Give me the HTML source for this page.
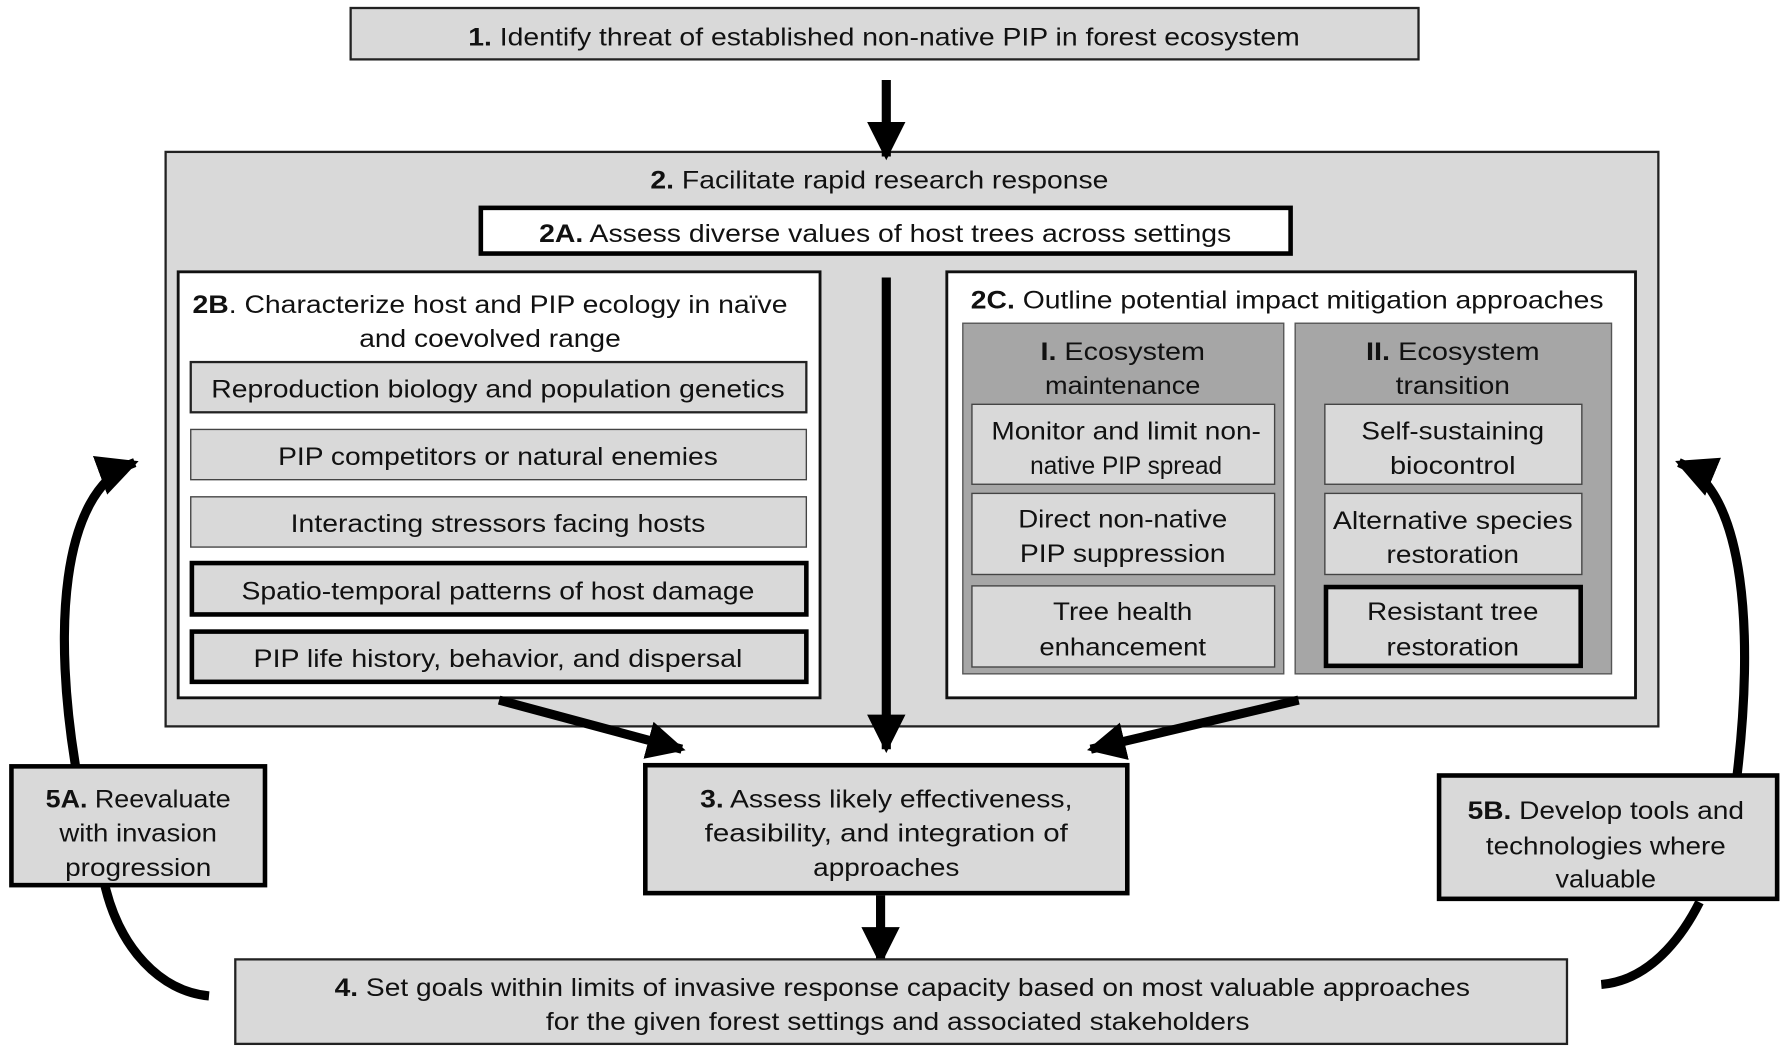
<!DOCTYPE html>
<html><head><meta charset="utf-8"><style>
html,body{margin:0;padding:0;background:#fff;}
svg{display:block;}
text{font-family:"Liberation Sans",Arial,sans-serif;font-size:22px;fill:#111;text-anchor:middle;}
.b{font-weight:bold;}
</style></head><body>
<svg width="1784" height="1048" viewBox="0 0 1562 917.6" xmlns="http://www.w3.org/2000/svg">
<defs>
<marker id="ah" viewBox="0 0 10 10" refX="9" refY="5" markerWidth="4.2" markerHeight="4.2" orient="auto" markerUnits="strokeWidth"><path d="M0,0 L10,5 L0,10 z" fill="#000"/></marker>
<marker id="ah2" viewBox="0 0 10 10" refX="9" refY="5" markerWidth="4.5" markerHeight="4.5" orient="auto" markerUnits="strokeWidth"><path d="M0,0 L10,5 L0,10 z" fill="#000"/></marker>
</defs>

<!-- Box 1 -->
<rect x="307" y="7" width="935" height="45" fill="#d9d9d9" stroke="#222" stroke-width="2"/>
<text x="774" y="40" textLength="728" lengthAdjust="spacingAndGlyphs"><tspan class="b">1.</tspan> Identify threat of established non-native PIP in forest ecosystem</text>

<!-- Box 2 -->
<rect x="145" y="133" width="1307" height="503" fill="#d9d9d9" stroke="#222" stroke-width="2"/>
<text x="770" y="165" textLength="401" lengthAdjust="spacingAndGlyphs"><tspan class="b">2.</tspan> Facilitate rapid research response</text>

<!-- arrow 1 -> 2 -->
<line x1="776" y1="70" x2="776" y2="137" stroke="#000" stroke-width="8" marker-end="url(#ah)"/>

<!-- 2A -->
<rect x="421" y="182" width="709" height="40" fill="#fff" stroke="#000" stroke-width="4"/>
<text x="775" y="212" textLength="606" lengthAdjust="spacingAndGlyphs"><tspan class="b">2A.</tspan> Assess diverse values of host trees across settings</text>

<!-- 2B -->
<rect x="156" y="238" width="562" height="373" fill="#fff" stroke="#111" stroke-width="2.5"/>
<text x="429" y="274" textLength="521" lengthAdjust="spacingAndGlyphs"><tspan class="b">2B</tspan>. Characterize host and PIP ecology in naïve</text>
<text x="429" y="304" textLength="229" lengthAdjust="spacingAndGlyphs">and coevolved range</text>

<rect x="167" y="317" width="539" height="44" fill="#d9d9d9" stroke="#222" stroke-width="2"/>
<text x="436" y="348" textLength="502" lengthAdjust="spacingAndGlyphs">Reproduction biology and population genetics</text>
<rect x="167" y="376" width="539" height="44" fill="#d9d9d9" stroke="#444" stroke-width="1.2"/>
<text x="436" y="407" textLength="385" lengthAdjust="spacingAndGlyphs">PIP competitors or natural enemies</text>
<rect x="167" y="435" width="539" height="44" fill="#d9d9d9" stroke="#444" stroke-width="1.2"/>
<text x="436" y="466" textLength="363" lengthAdjust="spacingAndGlyphs">Interacting stressors facing hosts</text>
<rect x="168" y="493" width="538" height="45" fill="#d9d9d9" stroke="#000" stroke-width="4"/>
<text x="436" y="525" textLength="449" lengthAdjust="spacingAndGlyphs">Spatio-temporal patterns of host damage</text>
<rect x="168" y="553" width="538" height="44" fill="#d9d9d9" stroke="#000" stroke-width="4"/>
<text x="436" y="584" textLength="428" lengthAdjust="spacingAndGlyphs">PIP life history, behavior, and dispersal</text>

<!-- 2C -->
<rect x="829" y="238" width="603" height="373" fill="#fff" stroke="#111" stroke-width="2.5"/>
<text x="1127" y="270" textLength="554" lengthAdjust="spacingAndGlyphs"><tspan class="b">2C.</tspan> Outline potential impact mitigation approaches</text>

<rect x="843" y="283" width="281" height="307" fill="#a6a6a6" stroke="#555" stroke-width="1.2"/>
<text x="983" y="315" textLength="144" lengthAdjust="spacingAndGlyphs"><tspan class="b">I.</tspan> Ecosystem</text>
<text x="983" y="345" textLength="136" lengthAdjust="spacingAndGlyphs">maintenance</text>
<rect x="851" y="354" width="265" height="70" fill="#d9d9d9" stroke="#444" stroke-width="1.2"/>
<text x="986" y="385" textLength="236" lengthAdjust="spacingAndGlyphs">Monitor and limit non-</text>
<text x="986" y="415" textLength="168" lengthAdjust="spacingAndGlyphs">native PIP spread</text>
<rect x="851" y="432" width="265" height="71" fill="#d9d9d9" stroke="#444" stroke-width="1.2"/>
<text x="983" y="462" textLength="183" lengthAdjust="spacingAndGlyphs">Direct non-native</text>
<text x="983" y="492" textLength="180" lengthAdjust="spacingAndGlyphs">PIP suppression</text>
<rect x="851" y="513" width="265" height="71" fill="#d9d9d9" stroke="#444" stroke-width="1.2"/>
<text x="983" y="543" textLength="122" lengthAdjust="spacingAndGlyphs">Tree health</text>
<text x="983" y="574" textLength="146" lengthAdjust="spacingAndGlyphs">enhancement</text>

<rect x="1134" y="283" width="277" height="307" fill="#a6a6a6" stroke="#555" stroke-width="1.2"/>
<text x="1272" y="315" textLength="152" lengthAdjust="spacingAndGlyphs"><tspan class="b">II.</tspan> Ecosystem</text>
<text x="1272" y="345" textLength="100" lengthAdjust="spacingAndGlyphs">transition</text>
<rect x="1160" y="354" width="225" height="70" fill="#d9d9d9" stroke="#444" stroke-width="1.2"/>
<text x="1272" y="385" textLength="160" lengthAdjust="spacingAndGlyphs">Self-sustaining</text>
<text x="1272" y="415" textLength="110" lengthAdjust="spacingAndGlyphs">biocontrol</text>
<rect x="1160" y="432" width="225" height="71" fill="#d9d9d9" stroke="#444" stroke-width="1.2"/>
<text x="1272" y="463" textLength="210" lengthAdjust="spacingAndGlyphs">Alternative species</text>
<text x="1272" y="493" textLength="116" lengthAdjust="spacingAndGlyphs">restoration</text>
<rect x="1161" y="514" width="223" height="69" fill="#d9d9d9" stroke="#000" stroke-width="4"/>
<text x="1272" y="543" textLength="150" lengthAdjust="spacingAndGlyphs">Resistant tree</text>
<text x="1272" y="574" textLength="116" lengthAdjust="spacingAndGlyphs">restoration</text>

<!-- arrows to 3 -->
<line x1="776" y1="243" x2="776" y2="656" stroke="#000" stroke-width="8" marker-end="url(#ah)"/>
<line x1="437" y1="613" x2="597" y2="656" stroke="#000" stroke-width="8" marker-end="url(#ah)"/>
<line x1="1137" y1="613" x2="955" y2="656" stroke="#000" stroke-width="8" marker-end="url(#ah)"/>

<!-- Box 3 -->
<rect x="565" y="670" width="422" height="112" fill="#d9d9d9" stroke="#000" stroke-width="4"/>
<text x="776" y="707" textLength="326" lengthAdjust="spacingAndGlyphs"><tspan class="b">3.</tspan> Assess likely effectiveness,</text>
<text x="776" y="737" textLength="318" lengthAdjust="spacingAndGlyphs">feasibility, and integration of</text>
<text x="776" y="767" textLength="128" lengthAdjust="spacingAndGlyphs">approaches</text>

<!-- arrow 3 -> 4 -->
<line x1="771" y1="784" x2="771" y2="842" stroke="#000" stroke-width="8" marker-end="url(#ah)"/>

<!-- Box 4 -->
<rect x="206" y="840" width="1166" height="74" fill="#d9d9d9" stroke="#222" stroke-width="2"/>
<text x="790" y="872" textLength="994" lengthAdjust="spacingAndGlyphs"><tspan class="b">4.</tspan> Set goals within limits of invasive response capacity based on most valuable approaches</text>
<text x="786" y="902" textLength="616" lengthAdjust="spacingAndGlyphs">for the given forest settings and associated stakeholders</text>

<!-- curves left -->
<path d="M183,872 C140,868 105,830 92,776" fill="none" stroke="#000" stroke-width="8"/>
<path d="M66,670 C48,560 50,430 118,405" fill="none" stroke="#000" stroke-width="8" marker-end="url(#ah2)"/>
<!-- 5A -->
<rect x="10" y="671" width="222" height="104" fill="#d9d9d9" stroke="#000" stroke-width="4"/>
<text x="121" y="707" textLength="162" lengthAdjust="spacingAndGlyphs"><tspan class="b">5A.</tspan> Reevaluate</text>
<text x="121" y="737" textLength="138" lengthAdjust="spacingAndGlyphs">with invasion</text>
<text x="121" y="767" textLength="128" lengthAdjust="spacingAndGlyphs">progression</text>

<!-- curves right -->
<path d="M1402,862 C1450,858 1478,810 1488,790" fill="none" stroke="#000" stroke-width="8"/>
<path d="M1521,678 C1535,560 1530,430 1470,405" fill="none" stroke="#000" stroke-width="8" marker-end="url(#ah2)"/>
<!-- 5B -->
<rect x="1260" y="679" width="296" height="108" fill="#d9d9d9" stroke="#000" stroke-width="4"/>
<text x="1406" y="717" textLength="242" lengthAdjust="spacingAndGlyphs"><tspan class="b">5B.</tspan> Develop tools and</text>
<text x="1406" y="748" textLength="210" lengthAdjust="spacingAndGlyphs">technologies where</text>
<text x="1406" y="777" textLength="88" lengthAdjust="spacingAndGlyphs">valuable</text>
</svg>
</body></html>
